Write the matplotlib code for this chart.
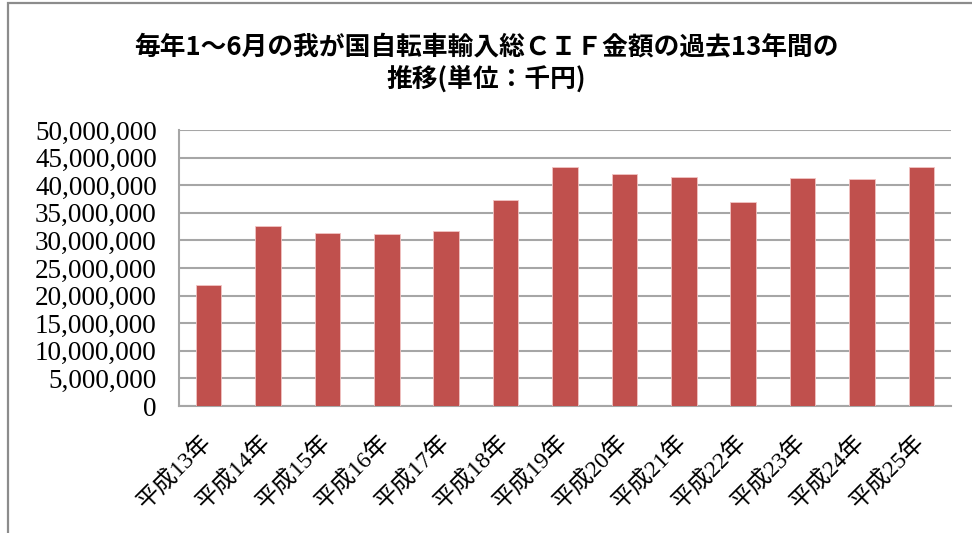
#!/usr/bin/env python3

import matplotlib
matplotlib.use("Agg")
import matplotlib.pyplot as plt
from matplotlib.patches import Rectangle
from matplotlib.ticker import FuncFormatter

# data (unit: 1000 yen)
years = ["平成13年", "平成14年", "平成15年", "平成16年", "平成17年", "平成18年",
         "平成19年", "平成20年", "平成21年", "平成22年", "平成23年", "平成24年",
         "平成25年"]
cif_amount = [21950000, 32650000, 31270000, 31090000, 31740000, 37310000,
              43350000, 42030000, 41480000, 36890000, 41250000, 41060000,
              43350000]
yticks = list(range(0, 50000001, 5000000))

title = "毎年1～6月の我が国自転車輸入総ＣＩＦ金額の過去13年間の\n推移(単位：千円)"

BAR = "#C0504D"
GRID = "#A6A6A6"

fig = plt.figure(figsize=(9.72, 5.33), dpi=100)
fig.patch.set_facecolor("white")

# outer chart frame (only left/top visible in the crop)
fig.patches.append(Rectangle((8 / 972, -0.05), 1.1, 1 - 3 / 533 + 0.05,
                             transform=fig.transFigure, fill=False,
                             edgecolor="#8C8C8C", linewidth=1.6))

ax = fig.add_axes([179 / 972, 1 - 406 / 533, (951 - 179) / 972, (406 - 130) / 533])

x = list(range(len(years)))
ax.bar(x, cif_amount, width=0.43, color=BAR, edgecolor="#F2C4C3",
       linewidth=0.6, zorder=3)

ax.set_ylim(0, 50000000)
ax.set_xlim(-0.5, len(years) - 0.5)
ax.set_yticks(yticks)
ax.yaxis.set_major_formatter(FuncFormatter(lambda v, p: f"{int(v):,}"))
ax.yaxis.grid(True, color=GRID, linewidth=1.5, zorder=0)
ax.set_axisbelow(True)

for s in ["top", "right"]:
    ax.spines[s].set_visible(False)
for s in ["left", "bottom"]:
    ax.spines[s].set_color(GRID)
    ax.spines[s].set_linewidth(1.5)

ax.tick_params(axis="both", length=0)
ax.tick_params(axis="y", pad=16)
for lab in ax.get_yticklabels():
    lab.set_fontfamily(["Liberation Serif", "DejaVu Serif"])
    lab.set_fontsize(19.5)

ax.set_xticks(x)
ax.set_xticklabels(years, rotation=45, ha="right", va="center",
                   rotation_mode="anchor",
                   fontfamily=["Liberation Serif", "Noto Sans CJK JP"],
                   fontsize=17)
ax.tick_params(axis="x", pad=24)

fig.text(0.5, 1 - 63 / 533, title, ha="center", va="center",
         fontfamily=["Noto Sans CJK JP", "DejaVu Sans"], fontweight="bold",
         fontsize=18.5, linespacing=1.25)

fig.savefig("out.png", dpi=100, facecolor="white")
